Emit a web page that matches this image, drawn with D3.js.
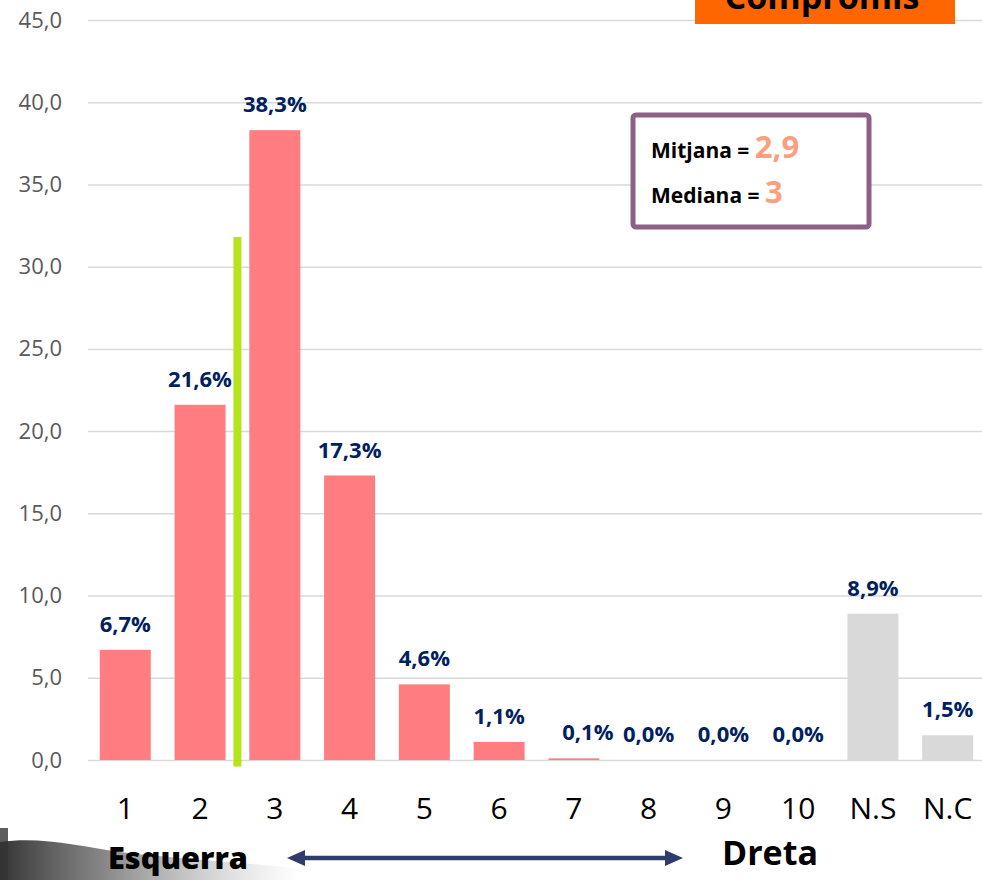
<!DOCTYPE html>
<html>
<head>
<meta charset="utf-8">
<script src="https://cdn.jsdelivr.net/npm/d3@7"></script>
<style>
  html, body { margin: 0; padding: 0; background: #ffffff; }
  svg { display: block; }
  text { font-family: "Open Sans", "Noto Sans", sans-serif; }
</style>
</head>
<body>
<script>
// ---- data ----
const categories = ["1","2","3","4","5","6","7","8","9","10","N.S","N.C"];
const values = [6.7, 21.6, 38.3, 17.3, 4.6, 1.1, 0.1, 0.0, 0.0, 0.0, 8.9, 1.5];
const noAnswer = ["N.S","N.C"];
const yTicks = [0, 5, 10, 15, 20, 25, 30, 35, 40, 45];
const markerRange = [-0.4, 31.8];   // green marker between 2 and 3
const statLabels = ["Mitjana = ", "Mediana = "];
const statValues = ["2,9", "3"];
const partyName = "Compromís";
const leftLabel = "Esquerra";
const rightLabel = "Dreta";

const W = 982, H = 880;
const svg = d3.select("body").append("svg").attr("width", W).attr("height", H);

// background smudge bottom-left
const defs = svg.append("defs");
const g1 = defs.append("linearGradient").attr("id", "smudge").attr("x1", "0").attr("x2", "1").attr("y1", "0").attr("y2", "0");
g1.append("stop").attr("offset", "0").attr("stop-color", "#2a2a2a").attr("stop-opacity", 0.95);
g1.append("stop").attr("offset", "0.35").attr("stop-color", "#555").attr("stop-opacity", 0.7);
g1.append("stop").attr("offset", "1").attr("stop-color", "#999").attr("stop-opacity", 0);
svg.append("path")
  .attr("d", "M0,842 C40,836 80,846 120,852 C170,858 230,862 300,868 L300,880 L0,880 Z")
  .attr("fill", "url(#smudge)");
svg.append("rect").attr("x", 0).attr("y", 828).attr("width", 8).attr("height", 52).attr("fill", "#333").attr("opacity", 0.8);

// scales
const x = d3.scaleBand().domain(categories).range([76, 997]).padding(0.318);
const y = d3.scaleLinear().domain([0, 45]).range([760, 20]);

// axis / gridlines
const fmt = v => d3.format(".1f")(v).replace(".", ",");
const axis = svg.append("g").attr("transform", "translate(88,0)")
  .call(d3.axisLeft(y).tickValues(yTicks).tickSize(-(982 - 88)).tickPadding(26).tickFormat(fmt));
axis.select(".domain").remove();
axis.selectAll(".tick line").attr("stroke", "#D9D9D9").attr("stroke-width", 1.5);
axis.selectAll(".tick text").attr("fill", "#595959").attr("font-size", 22)
  .style("font-family", "'Open Sans', sans-serif");

// orange party box
svg.append("rect").attr("x", 695).attr("y", 0).attr("width", 260).attr("height", 24).attr("fill", "#FF6600");
svg.append("text").attr("x", 822).attr("y", 9).attr("text-anchor", "middle")
  .attr("font-size", 34).attr("font-weight", 700).attr("fill", "#000").text(partyName);

// bars
svg.append("g").selectAll("rect").data(values).join("rect")
  .attr("x", (d, i) => x(categories[i]))
  .attr("y", d => y(d))
  .attr("width", x.bandwidth())
  .attr("height", d => y(0) - y(d))
  .attr("fill", (d, i) => noAnswer.includes(categories[i]) ? "#D9D9D9" : "#FF7C80");

// green marker
const mx = x("3") - (x.step() - x.bandwidth()) / 2;
svg.append("line").attr("x1", mx).attr("x2", mx)
  .attr("y1", y(markerRange[1])).attr("y2", y(markerRange[0]))
  .attr("stroke", "#B5E31C").attr("stroke-width", 8);

// data labels
svg.append("g").selectAll("text").data(values).join("text")
  .attr("x", (d, i) => x(categories[i]) + x.bandwidth() / 2 + (i === 6 ? 14 : 0))
  .attr("y", d => y(d) - 18)
  .attr("text-anchor", "middle")
  .attr("font-size", 22).attr("font-weight", 700).attr("fill", "#002060")
  .text(d => d.toFixed(1).replace(".", ",") + "%");

// category labels
svg.append("g").selectAll("text").data(categories).join("text")
  .attr("x", d => x(d) + x.bandwidth() / 2)
  .attr("y", 819)
  .attr("text-anchor", "middle")
  .attr("font-size", 30).attr("fill", "#000")
  .text(d => d);

// stats box
svg.append("rect").attr("x", 633).attr("y", 115).attr("width", 236).attr("height", 112)
  .attr("rx", 3).attr("fill", "#fff").attr("stroke", "#8B6286").attr("stroke-width", 5);
const statY = [158, 203];
const statSize = [31, 31];
statLabels.forEach((lab, i) => {
  const t = svg.append("text").attr("x", 651).attr("y", statY[i]).attr("font-weight", 700);
  t.append("tspan").attr("font-size", 21).attr("fill", "#000").text(lab);
  t.append("tspan").attr("font-size", statSize[i]).attr("fill", "#FBA07E").text(statValues[i]);
});

// bottom orientation arrow
svg.append("text").attr("x", 108).attr("y", 869).attr("font-size", 30).attr("font-weight", 800)
  .attr("fill", "#000").attr("textLength", 140).attr("lengthAdjust", "spacingAndGlyphs").text(leftLabel);
svg.append("text").attr("x", 722).attr("y", 865).attr("font-size", 34).attr("font-weight", 700)
  .attr("fill", "#000").text(rightLabel);
const ax1 = 287, ax2 = 683, ay = 858, arrowColor = "#2F3B6B";
svg.append("line").attr("x1", ax1 + 14).attr("x2", ax2 - 14).attr("y1", ay).attr("y2", ay)
  .attr("stroke", arrowColor).attr("stroke-width", 4.5);
svg.append("path").attr("d", `M${ax1},${ay} L${ax1 + 18},${ay - 8} L${ax1 + 18},${ay + 8} Z`).attr("fill", arrowColor);
svg.append("path").attr("d", `M${ax2},${ay} L${ax2 - 18},${ay - 8} L${ax2 - 18},${ay + 8} Z`).attr("fill", arrowColor);
</script>
</body>
</html>
